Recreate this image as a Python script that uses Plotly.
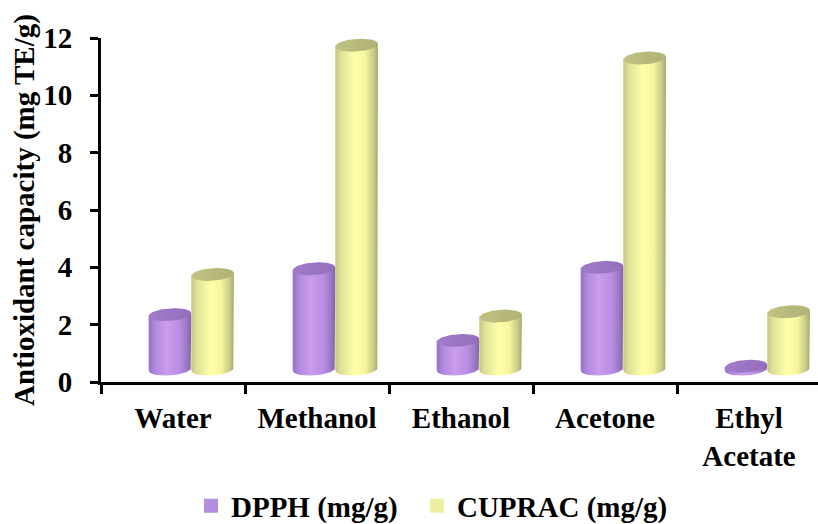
import numpy as np
import plotly.graph_objects as go

# Solvent extracts and measured antioxidant capacity (mg TE/g)
categories = ["Water", "Methanol", "Ethanol", "Acetone", "Ethyl<br>Acetate"]
dpph = [1.9, 3.5, 1.0, 3.55, 0.1]
cuprac = [3.3, 11.3, 1.85, 10.85, 2.0]
series_names = ["DPPH (mg/g)", "CUPRAC (mg/g)"]
y_ticks = [0, 2, 4, 6, 8, 10, 12]

# Cylinder styling / pseudo-3D geometry (axis units)
FLOOR = 0.45        # floor plane raised by the depth offset
DEPTH_SHIFT = 0.127 # horizontal depth offset of the columns
BAR_W = 0.296       # cylinder width in category units
CAP_RY = 0.22       # vertical half-height of the elliptical caps
CAP_TILT = 0.05     # slight perspective tilt of the caps

purple_body = [[0.0, "#9670bb"], [0.15, "#b189dc"], [0.42, "#cb9cf0"],
               [0.72, "#b98ee2"], [0.9, "#9d76c4"], [1.0, "#8562a8"]]
purple_cap = [[0.0, "#a27ccb"], [1.0, "#946ebd"]]
yellow_body = [[0.0, "#c4c581"], [0.12, "#dfe097"], [0.45, "#ffffa8"],
               [0.7, "#f6f6a0"], [0.9, "#c9ca84"], [1.0, "#a6a86b"]]
yellow_cap = [[0.0, "#c0c283"], [1.0, "#b0b276"]]
legend_colors = ["#b58ddd", "#efefa3"]
legend_ids = ["legend", "legend2"]

LINE = dict(width=0, color="rgba(0,0,0,0)")
FS = 29


def ell(cx, cy, rx, t):
    return cx + rx * np.cos(t), cy + CAP_RY * np.sin(t) + CAP_TILT * np.cos(t)


def cylinder(x_left, length, body_scale, cap_scale):
    rx = BAR_W / 2
    cx = x_left + rx
    top = FLOOR + length
    # body: left side up, right side down, front half of the base ellipse
    t = np.linspace(0, -np.pi, 40)
    bx, by = ell(cx, FLOOR, rx, t)
    xs = np.concatenate([[x_left, x_left, x_left + BAR_W], bx])
    ys = np.concatenate([[FLOOR - CAP_TILT, top - CAP_TILT, top + CAP_TILT], by])
    body = go.Scatter(x=xs, y=ys, xaxis="x2", mode="lines", line=LINE,
                      fill="toself",
                      fillgradient=dict(type="horizontal", colorscale=body_scale),
                      hoverinfo="skip", showlegend=False)
    tc = np.linspace(0, 2 * np.pi, 60)
    cxs, cys = ell(cx, top, rx, tc)
    cap = go.Scatter(x=cxs, y=cys, xaxis="x2", mode="lines", line=LINE,
                     fill="toself",
                     fillgradient=dict(type="horizontal", colorscale=cap_scale),
                     hoverinfo="skip", showlegend=False)
    return [body, cap]


fig = go.Figure()

# category axis carrier (labels and boundary ticks)
fig.add_trace(go.Scatter(x=categories, y=[None] * len(categories),
                         mode="markers", showlegend=False, hoverinfo="skip"))

for i in range(len(categories)):
    for tr in cylinder(i + DEPTH_SHIFT - BAR_W, dpph[i], purple_body, purple_cap):
        fig.add_trace(tr)
    for tr in cylinder(i + DEPTH_SHIFT, cuprac[i], yellow_body, yellow_cap):
        fig.add_trace(tr)

for name, col, lg in zip(series_names, legend_colors, legend_ids):
    fig.add_trace(go.Scatter(x=[None], y=[None], xaxis="x2", mode="markers",
                             name=name, legend=lg,
                             marker=dict(symbol="square", size=14, color=col)))

x_range = [-0.5, 4.479]
legend_style = dict(orientation="h", xanchor="left", y=-0.36, yanchor="middle",
                    font=dict(size=FS), itemclick=False,
                    bgcolor="rgba(0,0,0,0)")
fig.update_layout(
    width=818, height=524,
    margin=dict(l=101, r=0, t=38, b=142, autoexpand=False),
    paper_bgcolor="white", plot_bgcolor="white",
    font=dict(family="Liberation Serif", size=FS, color="black", weight="bold"),
    xaxis=dict(type="category", categoryorder="array", categoryarray=categories,
               range=x_range, tickson="boundaries", ticks="outside",
               ticklen=9, tickwidth=3, tickcolor="black",
               showline=True, linewidth=3, linecolor="black",
               showgrid=False, zeroline=False, ticklabelstandoff=8,
               automargin=False),
    xaxis2=dict(overlaying="x", range=x_range, visible=False),
    yaxis=dict(range=[0, 12], tickvals=y_ticks, ticks="outside",
               ticklen=8, tickwidth=3, tickcolor="black",
               showline=True, linewidth=3, linecolor="black",
               showgrid=False, zeroline=False, ticklabelstandoff=12,
               automargin=False,
               title=dict(text="Antioxidant capacity (mg TE/g)",
                          font=dict(size=FS), standoff=1)),
    legend=dict(x=0.1255, **legend_style),
    legend2=dict(x=0.4407, **legend_style),
    showlegend=True,
)

fig.write_html("out.html")
